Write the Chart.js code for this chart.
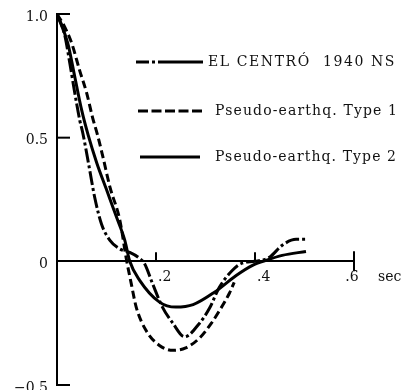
<!DOCTYPE html>
<html><head><meta charset="utf-8">
<script src="https://cdn.jsdelivr.net/npm/chart.js@4.4.1/dist/chart.umd.min.js"></script>
<style>html,body{margin:0;padding:0;background:#fff;}#wrap{width:402px;height:390px;}</style>
</head><body><div id="wrap"><canvas id="c" width="402" height="390"></canvas></div>
<script>
// ---- data ----
const seriesNames = ['EL CENTRÓ  1940 NS', 'Pseudo-earthq. Type 1', 'Pseudo-earthq. Type 2'];

const elCentroT = [0, 0.015, 0.026, 0.036, 0.046, 0.052, 0.066, 0.076, 0.09, 0.107, 0.127, 0.147, 0.167, 0.177, 0.193, 0.213, 0.234, 0.2575, 0.288, 0.308, 0.328, 0.354, 0.374, 0.40, 0.429, 0.455, 0.483, 0.503];
const elCentroV = [1.0, 0.92, 0.80, 0.68, 0.57, 0.52, 0.37, 0.26, 0.15, 0.085, 0.05, 0.036, 0.012, -0.01, -0.09, -0.185, -0.25, -0.305, -0.25, -0.19, -0.105, -0.037, -0.007, 0.0, 0.016, 0.065, 0.089, 0.089];

const type1T = [0, 0.015, 0.03, 0.046, 0.06, 0.072, 0.082, 0.093, 0.107, 0.127, 0.14, 0.15, 0.16, 0.18, 0.207, 0.234, 0.26, 0.288, 0.312, 0.328, 0.348, 0.358];
const type1V = [1.0, 0.95, 0.88, 0.77, 0.68, 0.58, 0.51, 0.42, 0.30, 0.166, 0.01, -0.09, -0.185, -0.28, -0.34, -0.36, -0.35, -0.31, -0.25, -0.20, -0.13, -0.085];

const type2T = [0, 0.022, 0.036, 0.05, 0.063, 0.08, 0.1, 0.12, 0.137, 0.147, 0.167, 0.207, 0.24, 0.275, 0.318, 0.362, 0.395, 0.422, 0.455, 0.503];
const type2V = [1.0, 0.88, 0.745, 0.61, 0.51, 0.40, 0.29, 0.18, 0.085, 0.0, -0.077, -0.165, -0.185, -0.175, -0.125, -0.057, -0.016, 0.004, 0.024, 0.04];

const xTickValues = [0.2, 0.4, 0.6];
const xTickLabels = ['.2', '.4', '.6'];
const yTickValues = [-0.5, 0, 0.5, 1.0];
const yTickLabels = ['\u22120.5', '0', '0.5', '1.0'];
const xUnit = 'sec';

// ---- chart ----
const SERIF = '"DejaVu Serif", "Liberation Serif", serif';
const pts = (t, v) => t.map((x, i) => ({x: x, y: v[i]}));

const axisPlugin = {
  id: 'axisDecor',
  afterDraw(chart) {
    const ctx = chart.ctx, xs = chart.scales.x, ys = chart.scales.y;
    const x0 = xs.getPixelForValue(0), y0 = ys.getPixelForValue(0);
    ctx.save();
    ctx.strokeStyle = '#000'; ctx.lineWidth = 2;
    yTickValues.filter(v => v !== 0).forEach(v => {
      const py = ys.getPixelForValue(v);
      ctx.beginPath(); ctx.moveTo(x0, py); ctx.lineTo(x0 + 13, py); ctx.stroke();
    });
    ctx.font = '14px ' + SERIF; ctx.fillStyle = '#111';
    ctx.textBaseline = 'middle';
    xTickValues.forEach((v, i) => {
      const px = xs.getPixelForValue(v);
      const last = i === xTickValues.length - 1;
      ctx.beginPath(); ctx.moveTo(px, y0 - (last ? 10 : 9)); ctx.lineTo(px, y0 + (last ? 10 : 0)); ctx.stroke();
      // tick label: first ones sit right of the tick, the last one under it
      ctx.textAlign = last ? 'center' : 'left';
      ctx.fillText(xTickLabels[i], last ? px - 2 : px + 2, y0 + 16);
    });
    ctx.textAlign = 'left';
    ctx.fillText(xUnit, xs.right + 24, y0 + 16);
    ctx.restore();
  }
};

const legendPlugin = {
  id: 'customLegend',
  afterDraw(chart) {
    const ctx = chart.ctx;
    const rows = [
      {y: 62, x0: 136, x1: 203, tx: 208, tx1: 396, dash: [13, 3, 3, 3, 48, 0]},
      {y: 111, x0: 138, x1: 202, tx: 215, tx1: 398, dash: [10, 3.5]},
      {y: 157, x0: 140, x1: 200, tx: 215, tx1: 397, dash: []}
    ];
    chart.data.datasets.forEach((ds, i) => {
      const r = rows[i];
      ctx.save();
      ctx.strokeStyle = '#000'; ctx.lineWidth = 3.2; ctx.lineCap = 'butt';
      ctx.setLineDash(r.dash);
      ctx.beginPath(); ctx.moveTo(r.x0, r.y); ctx.lineTo(r.x1, r.y); ctx.stroke();
      ctx.setLineDash([]);
      ctx.font = '14px ' + SERIF; ctx.fillStyle = '#111';
      ctx.textBaseline = 'middle'; ctx.textAlign = 'left';
      ctx.letterSpacing = '0px';
      const w = ctx.measureText(ds.label).width;
      const sp = Math.max(0, (r.tx1 - r.tx - w) / ds.label.length);
      ctx.letterSpacing = sp.toFixed(2) + 'px';
      ctx.fillText(ds.label, r.tx, r.y);
      ctx.restore();
    });
  }
};

const common = {borderColor: '#000', backgroundColor: '#000', borderWidth: 3, pointRadius: 0, fill: false, cubicInterpolationMode: 'monotone', showLine: true};

new Chart(document.getElementById('c'), {
  type: 'scatter',
  data: {
    datasets: [
      Object.assign({label: seriesNames[0], data: pts(elCentroT, elCentroV), borderDash: [14, 3, 3, 3]}, common),
      Object.assign({label: seriesNames[1], data: pts(type1T, type1V), borderDash: [8, 4]}, common),
      Object.assign({label: seriesNames[2], data: pts(type2T, type2V), borderDash: []}, common)
    ]
  },
  options: {
    responsive: false,
    animation: false,
    devicePixelRatio: 1,
    layout: {padding: {top: 14, right: 48, bottom: 5, left: 0}},
    plugins: {legend: {display: false}, tooltip: {enabled: false}},
    scales: {
      x: {
        type: 'linear', min: 0, max: 0.6, position: {y: 0},
        afterBuildTicks: s => { s.ticks = xTickValues.map(v => ({value: v})); },
        afterFit: s => { s.height = 0; s.paddingLeft = 0; s.paddingRight = 0; s.paddingTop = 0; s.paddingBottom = 0; },
        ticks: {display: false},
        grid: {display: false, drawTicks: false},
        border: {display: true, color: '#000', width: 2}
      },
      y: {
        type: 'linear', min: -0.5, max: 1.0, position: 'left',
        afterBuildTicks: s => { s.ticks = yTickValues.map(v => ({value: v})); },
        afterFit: s => { s.width = 57; s.paddingTop = 0; s.paddingBottom = 0; },
        ticks: {
          callback: (v) => yTickLabels[yTickValues.indexOf(v)] ?? '',
          font: {family: SERIF, size: 14}, color: '#111', padding: 9, labelOffset: 3
        },
        grid: {display: false, drawTicks: false},
        border: {display: true, color: '#000', width: 2}
      }
    }
  },
  plugins: [axisPlugin, legendPlugin]
});
</script>
</body></html>
